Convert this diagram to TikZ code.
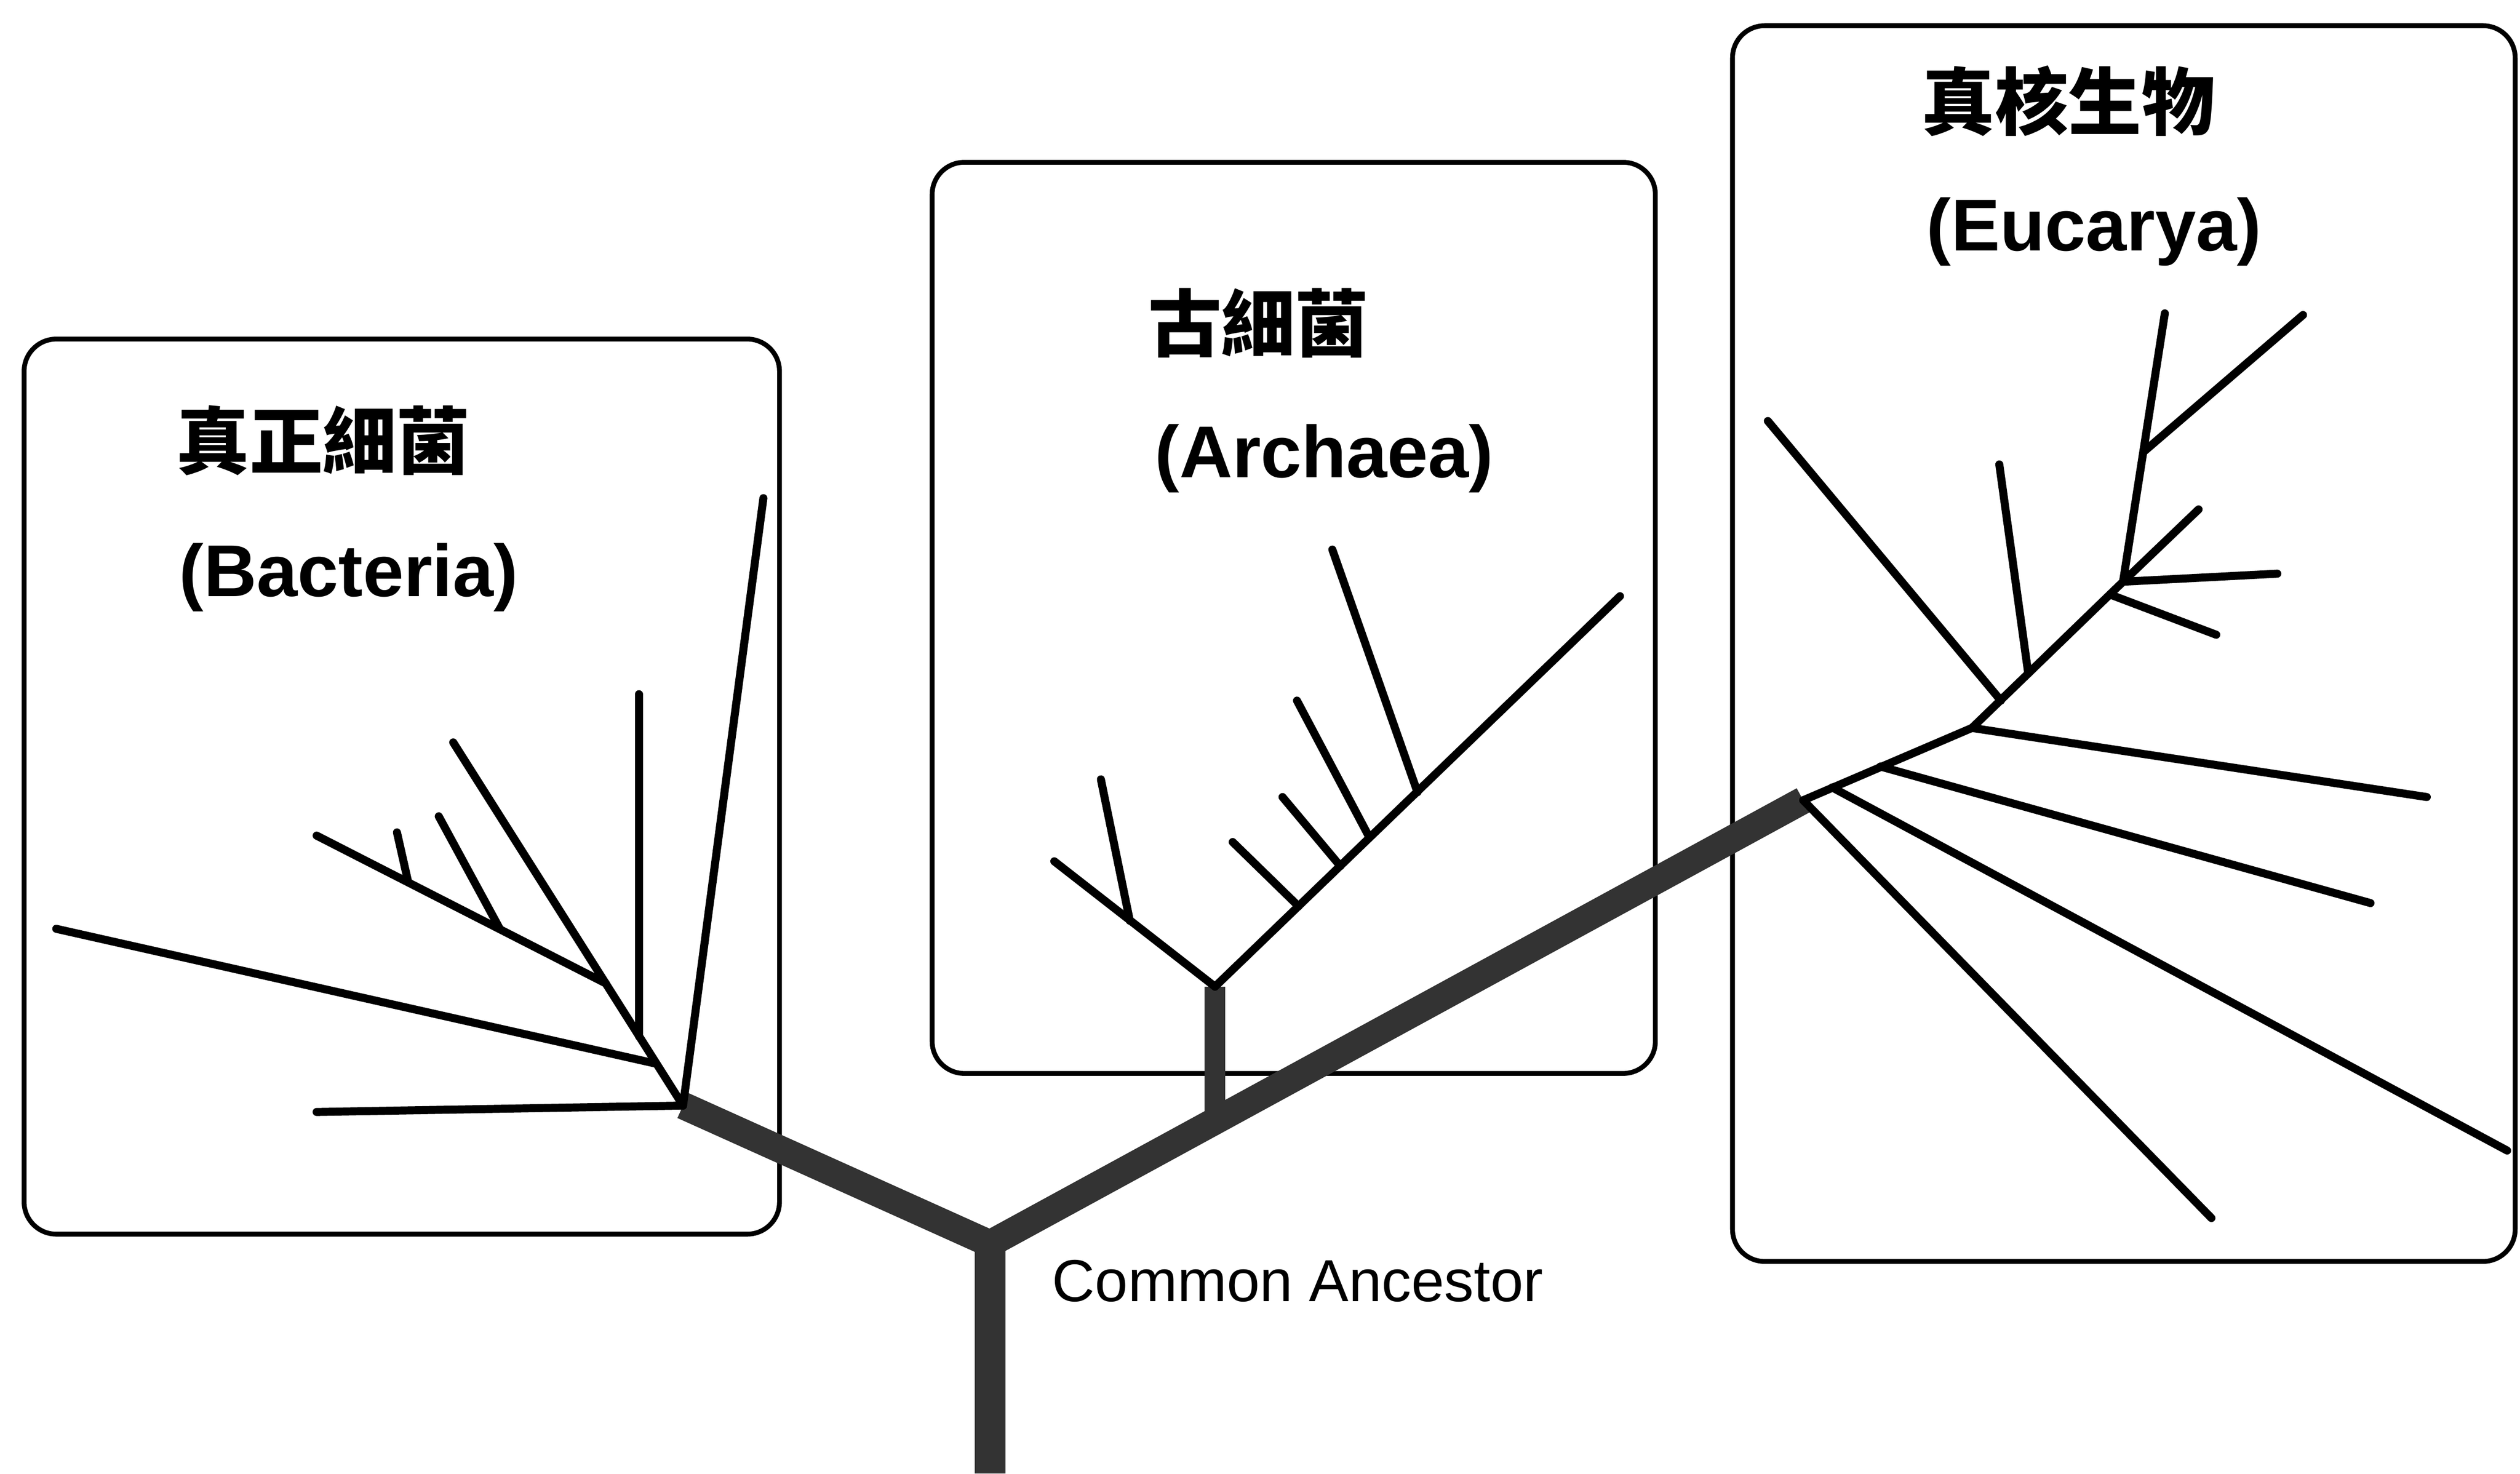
\documentclass[tikz,border=0pt]{standalone}
\usepackage{fontspec}
\setmainfont{Liberation Sans}
\newfontfamily\cjk{Noto Sans CJK TC}
\begin{document}
\begin{tikzpicture}[x=0.1mm, y=-0.1mm,
    twig/.style={line width=0.5mm, line cap=round},
    limb/.style={line width=1.7mm, black!80, line join=miter},
    groupbox/.style={line width=0.3mm, rounded corners=2mm},
    cjktitle/.style={font=\cjk\bfseries\fontsize{13pt}{15pt}\selectfont, inner sep=0},
    latintitle/.style={font=\bfseries\fontsize{13pt}{15pt}\selectfont, inner sep=0, anchor=base}]
  \useasboundingbox (0,0) rectangle (1568,917);

  \draw[groupbox] (15,211) rectangle (485,768);
  \draw[groupbox] (580,101) rectangle (1030,668);
  \draw[groupbox] (1078,16) rectangle (1565,785);

  \node[cjktitle] (bactzh) at (201,274) {真正細菌};
  \node[latintitle] (bacten) at (217,371) {(Bacteria)};
  \node[cjktitle] (archzh) at (783,201) {古細菌};
  \node[latintitle] (archen) at (824,297) {(Archaea)};
  \node[cjktitle] (euczh) at (1287,63) {真核生物};
  \node[latintitle] (eucen) at (1303,156) {(Eucarya)};
  \node[font=\fontsize{10.5pt}{12pt}\selectfont, anchor=base west, inner sep=0] (ancestor) at (654,810) {Common Ancestor};

  \coordinate (base) at (616,917);
  \coordinate (root) at (616,774);
  \coordinate (bac) at (425,688);
  \coordinate (euc) at (1122,498);
  \coordinate (arcfoot) at (756,698);
  \coordinate (arc) at (756,614);

  \draw[limb, line width=1.9mm] (base) -- (root);
  \draw[limb] (bac) -- (root) -- (euc);
  \draw[limb, line width=1.3mm] (arcfoot) -- (arc);

  % Bacteria
  \coordinate (b1) at (408.5,662);
  \coordinate (b2) at (397.5,645);
  \coordinate (b3) at (377,612);
  \coordinate (b4) at (311,578);
  \coordinate (b5) at (254,549);
  \coordinate (ba) at (197,692);
  \coordinate (bb) at (475,310);
  \coordinate (bc) at (282,462);
  \coordinate (bd) at (35,578);
  \coordinate (be) at (397.5,432);
  \coordinate (bf) at (197,520);
  \coordinate (bg) at (273,508);
  \coordinate (bh) at (247,518);
  \draw[twig] (bac) -- (ba);
  \draw[twig] (bac) -- (bb);
  \draw[twig] (bac) -- (bc);
  \draw[twig] (b1) -- (bd);
  \draw[twig] (b2) -- (be);
  \draw[twig] (b3) -- (bf);
  \draw[twig] (b4) -- (bg);
  \draw[twig] (b5) -- (bh);

  % Archaea
  \coordinate (al) at (656,536);
  \coordinate (a1) at (703,573);
  \coordinate (a1x) at (685,485);
  \coordinate (ar) at (1008,371);
  \coordinate (a2) at (808,564);
  \coordinate (a2x) at (767,524);
  \coordinate (a3) at (834,539);
  \coordinate (a3x) at (798,496);
  \coordinate (a4) at (852,521);
  \coordinate (a4x) at (807,436);
  \coordinate (a5) at (882,493);
  \coordinate (a5x) at (829,342);
  \draw[twig] (arc) -- (al);
  \draw[twig] (a1) -- (a1x);
  \draw[twig] (arc) -- (ar);
  \draw[twig] (a2) -- (a2x);
  \draw[twig] (a3) -- (a3x);
  \draw[twig] (a4) -- (a4x);
  \draw[twig] (a5) -- (a5x);

  % Eucarya
  \coordinate (e1) at (1140,490);
  \coordinate (e2) at (1170,477);
  \coordinate (e3) at (1227,453);
  \coordinate (e4) at (1245,436);
  \coordinate (e5) at (1262,419);
  \coordinate (e6) at (1313,370);
  \coordinate (e7) at (1321,362);
  \coordinate (e8) at (1334,281);
  \coordinate (eA) at (1376,758);
  \coordinate (eB) at (1560,716);
  \coordinate (eC) at (1475,562);
  \coordinate (eD) at (1510,496);
  \coordinate (eE) at (1100,262);
  \coordinate (eF) at (1244,289);
  \coordinate (eG) at (1379,395);
  \coordinate (eH) at (1347,195);
  \coordinate (eI) at (1417,357);
  \coordinate (eJ) at (1368,317);
  \coordinate (eK) at (1433,196);
  \draw[twig] (euc) -- (e3) -- (e7);
  \draw[twig] (euc) -- (eA);
  \draw[twig] (e1) -- (eB);
  \draw[twig] (e2) -- (eC);
  \draw[twig] (e3) -- (eD);
  \draw[twig] (e4) -- (eE);
  \draw[twig] (e5) -- (eF);
  \draw[twig] (e6) -- (eG);
  \draw[twig] (e7) -- (eH);
  \draw[twig] (e7) -- (eI);
  \draw[twig] (e7) -- (eJ);
  \draw[twig] (e8) -- (eK);
\end{tikzpicture}
\end{document}
